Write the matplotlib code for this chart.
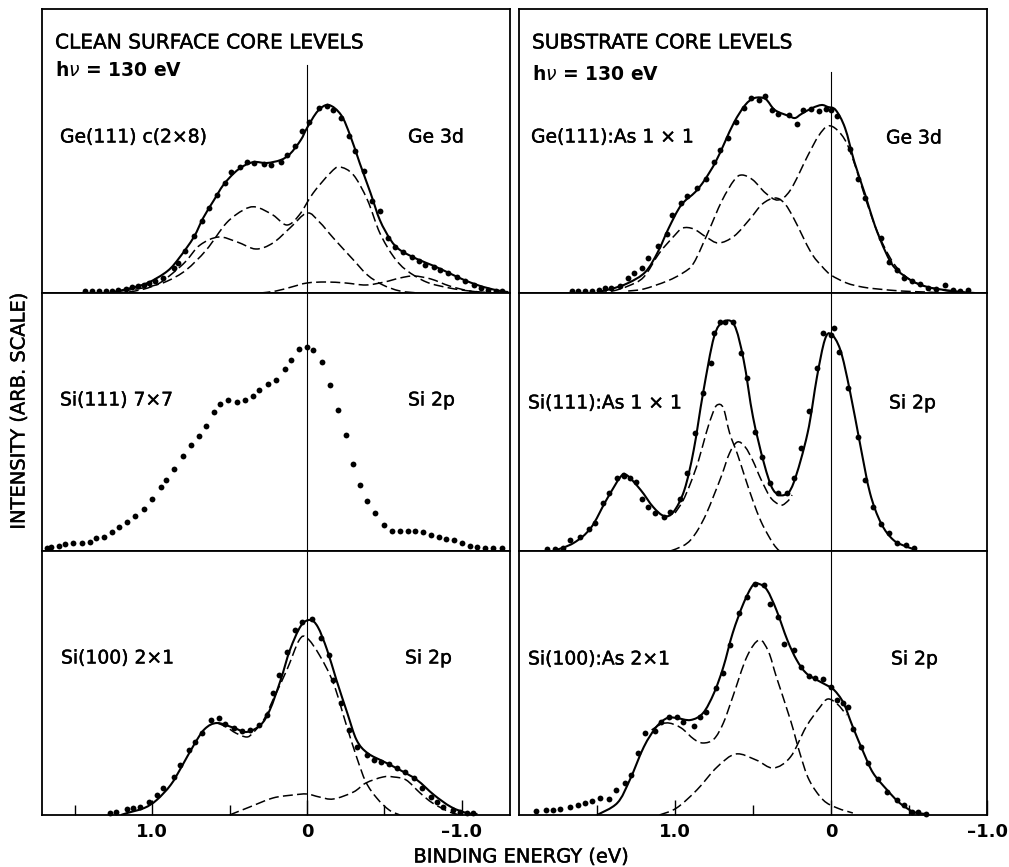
import numpy as np
import matplotlib.pyplot as plt
import matplotlib.patheffects as pe
from matplotlib.path import Path
from matplotlib.patches import PathPatch

plt.rcParams['font.family'] = ['DejaVu Sans']

# ---- spectra: binding energy (eV) and intensity (arb., panel units) ----

# Ge(111) c(2x8), Ge 3d
ge_clean_e = [1.43, 1.39, 1.34, 1.30, 1.26, 1.22, 1.17, 1.13, 1.09, 1.05, 1.02, 0.98, 0.93, 0.86, 0.83,
              0.79, 0.73, 0.68, 0.63, 0.58, 0.53, 0.49, 0.43, 0.39, 0.34, 0.28, 0.23, 0.17, 0.13, 0.08,
              0.03, -0.01, -0.08, -0.13, -0.17, -0.22, -0.27, -0.31, -0.37, -0.42, -0.47, -0.52, -0.57,
              -0.62, -0.68, -0.72, -0.76, -0.82, -0.86, -0.91, -0.97, -1.02, -1.08, -1.12, -1.17, -1.22, -1.26]
ge_clean_i = [2, 2, 2, 2, 2, 3, 4, 6, 7, 8, 10, 12, 15, 25, 30,
              42, 57, 72, 85, 98, 110, 121, 126, 131, 130, 129, 128, 131, 138, 147,
              162, 171, 185, 187, 183, 175, 157, 142, 122, 92, 82, 55, 46,
              41, 36, 32, 28, 26, 23, 20, 16, 12, 8, 5, 3, 2, 2]
ge_clean_fit_e = [1.25, 1.16, 1.03, 0.90, 0.82, 0.73, 0.67, 0.60, 0.54, 0.47, 0.41, 0.34, 0.26, 0.17, 0.11,
                  0.04, 0.0, -0.07, -0.14, -0.22, -0.28, -0.34, -0.41, -0.47, -0.54, -0.60, -0.71, -0.82,
                  -0.93, -1.03, -1.14, -1.25, -1.30]
ge_clean_fit_i = [1, 4, 10, 22, 36, 56, 75, 93, 108, 120, 127, 131, 130, 133, 139,
                  153, 165, 182, 188, 178, 157, 130, 100, 73, 53, 43, 34, 27,
                  19, 12, 6, 2, 1]
ge_clean_c1_e = [1.15, 1.05, 0.95, 0.85, 0.78, 0.69, 0.57, 0.45, 0.33, 0.22, 0.11, 0.0, -0.08, -0.17,
                 -0.30, -0.39, -0.49, -0.60, -0.72]
ge_clean_c1_i = [1, 4, 10, 22, 32, 48, 56, 51, 44, 50, 65, 80, 71, 55, 33, 18, 8, 2, 0]
ge_clean_c2_e = [1.20, 1.10, 1.00, 0.90, 0.78, 0.65, 0.52, 0.41, 0.33, 0.22, 0.13, 0.05, -0.04, -0.15,
                 -0.21, -0.30, -0.39, -0.47, -0.56, -0.64, -0.77, -0.92, -1.05, -1.20]
ge_clean_c2_i = [2, 4, 7, 12, 23, 43, 70, 83, 86, 78, 68, 78, 100, 120, 126, 118, 93, 60, 36, 23, 11, 5, 2, 0]
ge_clean_c3_e = [0.30, 0.20, 0.10, 0.0, -0.12, -0.25, -0.38, -0.50, -0.60, -0.69, -0.80, -0.92, -1.05, -1.18]
ge_clean_c3_i = [0, 2, 6, 10, 11, 10, 8, 11, 15, 17, 14, 7, 2, 0]

# Ge(111):As 1x1, Ge 3d
ge_as_e = [1.66, 1.62, 1.58, 1.53, 1.49, 1.45, 1.41, 1.35, 1.30, 1.26, 1.21, 1.17, 1.11, 1.05, 1.02,
           0.96, 0.92, 0.86, 0.80, 0.75, 0.71, 0.66, 0.61, 0.56, 0.51, 0.46, 0.42, 0.38, 0.34, 0.27,
           0.22, 0.18, 0.13, 0.08, 0.03, 0.0, -0.04, -0.12, -0.17, -0.22, -0.32, -0.37, -0.42, -0.47,
           -0.52, -0.57, -0.62, -0.67, -0.73, -0.78, -0.83, -0.88]
ge_as_i = [2, 2, 2, 2, 3, 5, 5, 7, 15, 20, 25, 35, 47, 59, 78,
           90, 97, 105, 114, 131, 143, 155, 171, 185, 195, 193, 197, 183, 179, 178,
           169, 183, 184, 182, 184, 183, 177, 144, 114, 95, 55, 31, 23, 15,
           12, 9, 5, 4, 8, 3, 2, 3]
ge_as_fit_e = [1.50, 1.41, 1.30, 1.19, 1.11, 1.04, 0.96, 0.87, 0.81, 0.74, 0.68, 0.62, 0.55, 0.49, 0.42,
               0.36, 0.27, 0.23, 0.19, 0.12, 0.06, 0.02, -0.03, -0.09, -0.15, -0.22, -0.28, -0.35, -0.41,
               -0.52, -0.62, -0.73, -0.84, -0.92]
ge_as_fit_i = [1, 4, 10, 21, 41, 65, 88, 101, 113, 131, 151, 171, 188, 195, 194,
               183, 177, 175, 179, 185, 188, 186, 183, 165, 131, 98, 68, 41, 25,
               12, 6, 3, 1, 0]
ge_as_c1_e = [1.50, 1.40, 1.30, 1.20, 1.10, 1.00, 0.95, 0.88, 0.80, 0.72, 0.62, 0.52, 0.44, 0.36, 0.30,
              0.24, 0.13, 0.06, 0.0, -0.10, -0.20, -0.30, -0.45, -0.60, -0.75]
ge_as_c1_i = [0, 2, 7, 16, 40, 58, 65, 64, 56, 50, 57, 74, 89, 95, 90, 75, 41, 27, 18, 10, 6, 4, 2, 1, 0]
ge_as_c2_e = [1.30, 1.20, 1.05, 0.95, 0.88, 0.79, 0.70, 0.62, 0.57, 0.50, 0.42, 0.34, 0.26, 0.15, 0.08,
              0.02, -0.04, -0.10, -0.16, -0.22, -0.30, -0.40, -0.50, -0.62, -0.75, -0.85]
ge_as_c2_i = [2, 4, 12, 20, 30, 60, 92, 113, 118, 113, 100, 93, 103, 137, 157,
              167, 163, 150, 125, 95, 60, 30, 14, 6, 2, 0]

# Si(111) 7x7, Si 2p (data only)
si111_e = [1.68, 1.65, 1.60, 1.56, 1.51, 1.45, 1.40, 1.36, 1.31, 1.26, 1.21, 1.16, 1.11, 1.05, 1.00,
           0.94, 0.91, 0.86, 0.80, 0.75, 0.70, 0.65, 0.60, 0.56, 0.51, 0.45, 0.40, 0.35, 0.31, 0.25,
           0.20, 0.14, 0.10, 0.05, 0.0, -0.04, -0.10, -0.15, -0.20, -0.25, -0.30, -0.34, -0.39, -0.44,
           -0.50, -0.55, -0.60, -0.65, -0.70, -0.75, -0.80, -0.85, -0.90, -0.95, -1.00, -1.05, -1.10,
           -1.15, -1.20, -1.26]
si111_i = [3, 4, 5, 7, 8, 8, 9, 13, 14, 19, 24, 29, 35, 42, 52,
           64, 71, 82, 95, 106, 115, 125, 139, 147, 151, 149, 151, 155, 161, 167,
           171, 182, 191, 202, 204, 201, 189, 166, 141, 116, 87, 66, 50, 38,
           26, 20, 20, 20, 20, 19, 16, 14, 12, 11, 8, 5, 4,
           3, 3, 3]

# Si(111):As 1x1, Si 2p
si111_as_e = [1.82, 1.77, 1.72, 1.67, 1.61, 1.55, 1.51, 1.46, 1.42, 1.37, 1.33, 1.29, 1.25, 1.21, 1.17,
              1.13, 1.07, 1.03, 0.97, 0.92, 0.87, 0.82, 0.77, 0.75, 0.71, 0.68, 0.63, 0.58, 0.54, 0.49,
              0.44, 0.39, 0.34, 0.28, 0.24, 0.19, 0.14, 0.09, 0.05, 0.0, -0.02, -0.05, -0.11, -0.17,
              -0.22, -0.27, -0.32, -0.37, -0.42, -0.48, -0.53]
si111_as_i = [2, 2, 3, 11, 14, 22, 28, 48, 58, 73, 75, 73, 69, 52, 44,
              38, 34, 39, 52, 78, 118, 158, 188, 218, 229, 229, 229, 198, 173, 119,
              94, 68, 58, 58, 73, 103, 140, 183, 218, 216, 223, 199, 163, 114,
              71, 44, 27, 18, 8, 6, 3]
si111_as_fit_e = [1.78, 1.65, 1.54, 1.44, 1.35, 1.31, 1.22, 1.14, 1.07, 1.01, 0.94, 0.88, 0.82, 0.75, 0.69,
                  0.62, 0.56, 0.50, 0.43, 0.37, 0.30, 0.24, 0.15, 0.09, 0.04, 0.0, -0.06, -0.12, -0.19,
                  -0.25, -0.32, -0.40, -0.49, -0.55]
si111_as_fit_i = [0, 8, 23, 51, 74, 76, 61, 44, 35, 39, 61, 101, 158, 214, 229,
                  226, 191, 134, 88, 61, 56, 68, 118, 174, 211, 217, 201, 161, 104,
                  58, 28, 11, 4, 1]
si111_as_c1_e = [1.00, 0.95, 0.90, 0.85, 0.80, 0.76, 0.73, 0.69, 0.65, 0.60, 0.55, 0.50, 0.45, 0.40, 0.36, 0.33]
si111_as_c1_i = [38, 50, 68, 90, 118, 137, 146, 143, 118, 97, 73, 50, 30, 15, 5, 0]
si111_as_c2_e = [1.03, 0.95, 0.90, 0.85, 0.80, 0.75, 0.70, 0.65, 0.60, 0.55, 0.50, 0.45, 0.39, 0.34, 0.31, 0.27, 0.25]
si111_as_c2_i = [0, 5, 11, 22, 37, 56, 76, 98, 109, 104, 90, 72, 54, 47, 46, 51, 56]

# Si(100) 2x1, Si 2p
si100_e = [1.27, 1.23, 1.16, 1.12, 1.08, 1.02, 0.97, 0.93, 0.86, 0.82, 0.76, 0.72, 0.68, 0.62, 0.57,
           0.53, 0.47, 0.42, 0.37, 0.31, 0.26, 0.22, 0.18, 0.13, 0.08, 0.03, -0.03, -0.09, -0.14, -0.17,
           -0.22, -0.27, -0.32, -0.39, -0.43, -0.48, -0.53, -0.58, -0.63, -0.69, -0.74, -0.80, -0.84,
           -0.88, -0.94, -0.99, -1.03, -1.07]
si100_i = [2, 3, 6, 7, 8, 13, 20, 27, 38, 50, 65, 73, 82, 95, 97,
           91, 87, 84, 85, 90, 100, 122, 140, 163, 185, 193, 196, 177, 160, 135,
           112, 85, 68, 60, 55, 53, 51, 47, 43, 37, 27, 18, 13,
           8, 5, 3, 2, 2]
si100_fit_e = [1.20, 1.16, 1.05, 0.97, 0.88, 0.81, 0.73, 0.66, 0.58, 0.47, 0.39, 0.30, 0.24, 0.17, 0.11,
               0.04, -0.02, -0.07, -0.13, -0.19, -0.26, -0.32, -0.39, -0.50, -0.60, -0.71, -0.82, -0.93,
               -1.03, -1.10]
si100_fit_i = [0, 2, 7, 15, 30, 48, 70, 86, 92, 87, 83, 90, 105, 135, 165,
               189, 195, 188, 165, 135, 102, 75, 62, 53, 45, 35, 20, 8,
               2, 1]
si100_c1_e = [0.58, 0.52, 0.46, 0.39, 0.35, 0.28, 0.22, 0.13, 0.05, 0.0, -0.08, -0.17, -0.25, -0.32,
              -0.38, -0.45, -0.53, -0.60]
si100_c1_i = [92, 88, 82, 78, 82, 95, 115, 145, 175, 177, 160, 132, 92, 58, 33, 17, 5, 0]
si100_c2_e = [0.50, 0.37, 0.22, 0.09, 0.0, -0.08, -0.17, -0.30, -0.38, -0.49, -0.56, -0.64, -0.73, -0.81,
              -0.92, -0.99]
si100_c2_i = [0, 8, 17, 20, 21, 18, 16, 23, 32, 38, 38, 35, 22, 12, 3, 0]

# Si(100):As 2x1, Si 2p
si100_as_e = [1.89, 1.83, 1.78, 1.74, 1.67, 1.62, 1.58, 1.53, 1.48, 1.42, 1.38, 1.32, 1.28, 1.24, 1.19,
              1.13, 1.09, 1.04, 0.99, 0.95, 0.88, 0.84, 0.80, 0.74, 0.69, 0.65, 0.59, 0.54, 0.49, 0.43,
              0.39, 0.34, 0.30, 0.24, 0.19, 0.14, 0.10, 0.05, 0.0, -0.04, -0.08, -0.11, -0.14, -0.19,
              -0.24, -0.30, -0.36, -0.42, -0.47, -0.52, -0.56, -0.61]
si100_as_i = [4, 5, 5, 6, 8, 10, 12, 14, 17, 16, 25, 32, 40, 62, 82,
              84, 93, 98, 98, 93, 89, 98, 103, 127, 142, 170, 202, 218, 231, 230,
              211, 198, 171, 165, 148, 139, 137, 136, 128, 115, 112, 108, 86, 68,
              52, 36, 23, 15, 10, 3, 3, 1]
si100_as_fit_e = [1.50, 1.37, 1.29, 1.20, 1.12, 1.05, 0.99, 0.90, 0.82, 0.75, 0.69, 0.63, 0.56, 0.50, 0.46,
                  0.41, 0.35, 0.28, 0.22, 0.16, 0.09, 0.03, -0.02, -0.08, -0.14, -0.21, -0.27, -0.36,
                  -0.44, -0.53, -0.61]
si100_as_fit_i = [0, 12, 35, 68, 88, 97, 97, 95, 102, 122, 148, 182, 212, 230, 231,
                  225, 205, 175, 155, 142, 135, 130, 125, 112, 88, 62, 42, 25,
                  12, 3, 1]
si100_as_c1_e = [1.15, 1.10, 1.04, 0.96, 0.88, 0.82, 0.75, 0.69, 0.63, 0.54, 0.46, 0.40, 0.35, 0.26, 0.20,
                 0.14, 0.05, -0.04, -0.14]
si100_as_c1_i = [85, 90, 92, 87, 76, 72, 76, 92, 118, 158, 175, 163, 138, 95, 62, 35, 15, 7, 2]
si100_as_c2_e = [1.10, 0.99, 0.86, 0.73, 0.61, 0.48, 0.37, 0.26, 0.16, 0.07, 0.02, -0.04, -0.10]
si100_as_c2_i = [0, 7, 25, 48, 61, 55, 47, 58, 88, 108, 116, 111, 100]

W, H = 1009, 867
fig = plt.figure(figsize=(W / 100, H / 100), dpi=100)

# a touch heavier than regular weight for the lettering
semibold = [pe.withStroke(linewidth=0.3, foreground='black')]


def add_px_axes(x0, y0, x1, y1):
    return fig.add_axes([x0 / W, 1 - y1 / H, (x1 - x0) / W, (y1 - y0) / H])


def fig_text(x, y, s, **kw):
    kw.setdefault('va', 'center')
    kw.setdefault('ha', 'left')
    kw.setdefault('path_effects', semibold)
    fig.text(x / W, 1 - y / H, s, **kw)


def smooth(ax, e, i, dashed=False):
    # Catmull-Rom through the points, drawn as cubic Bezier segments
    pts = np.column_stack([e, i]).astype(float)
    n = len(pts)
    verts = [pts[0]]
    codes = [Path.MOVETO]
    for k in range(n - 1):
        p0 = pts[max(k - 1, 0)]
        p1 = pts[k]
        p2 = pts[k + 1]
        p3 = pts[min(k + 2, n - 1)]
        verts += [p1 + (p2 - p0) / 6, p2 - (p3 - p1) / 6, p2]
        codes += [Path.CURVE4] * 3
    if dashed:
        style = dict(lw=1.1, ls=(0, (6.5, 2.8)))
    else:
        style = dict(lw=1.5, ls='-')
    ax.add_patch(PathPatch(Path(verts, codes), fill=False, ec='black', capstyle='butt', **style))


def dots(ax, e, i):
    ax.plot(e, i, 'o', color='black', ms=4.2, mew=0, clip_on=False, zorder=3)


cols = [(42, 510, (1.71, -1.31)), (519, 987, (2.0, -1.0))]
rows = [(9, 293), (293, 551), (551, 815)]

axes = {}
for c, (x0, x1, xl) in enumerate(cols):
    for r, (y0, y1) in enumerate(rows):
        ax = add_px_axes(x0, y0, x1, y1)
        ax.set_xlim(*xl)
        ax.set_ylim(0, y1 - y0)
        ax.set_yticks([])
        for sp in ax.spines.values():
            sp.set_linewidth(1.3)
        if r == 2:
            ax.set_xticks([1.0, 0, -1.0], ['1.0', '0', '\u20131.0'], fontsize=13, fontweight='bold')
            ax.set_xticks([1.5, 0.5, -0.5], minor=True)
            ax.tick_params(axis='x', which='major', direction='in', length=11, width=1.0, pad=6)
            ax.tick_params(axis='x', which='minor', direction='in', length=7, width=1.0)
        else:
            ax.set_xticks([])
        axes[(r, c)] = ax

# zero-energy reference line
axes[(0, 0)].plot([0, 0], [0, 228], color='black', lw=0.8)
axes[(0, 1)].plot([0, 0], [0, 221], color='black', lw=0.8)
for key in [(1, 0), (2, 0), (1, 1), (2, 1)]:
    axes[key].axvline(0, color='black', lw=0.8)

ax = axes[(0, 0)]
for e, i in [(ge_clean_c1_e, ge_clean_c1_i), (ge_clean_c2_e, ge_clean_c2_i), (ge_clean_c3_e, ge_clean_c3_i)]:
    smooth(ax, e, i, dashed=True)
smooth(ax, ge_clean_fit_e, ge_clean_fit_i)
dots(ax, ge_clean_e, ge_clean_i)

ax = axes[(0, 1)]
for e, i in [(ge_as_c1_e, ge_as_c1_i), (ge_as_c2_e, ge_as_c2_i)]:
    smooth(ax, e, i, dashed=True)
smooth(ax, ge_as_fit_e, ge_as_fit_i)
dots(ax, ge_as_e, ge_as_i)

dots(axes[(1, 0)], si111_e, si111_i)

ax = axes[(1, 1)]
for e, i in [(si111_as_c1_e, si111_as_c1_i), (si111_as_c2_e, si111_as_c2_i)]:
    smooth(ax, e, i, dashed=True)
smooth(ax, si111_as_fit_e, si111_as_fit_i)
dots(ax, si111_as_e, si111_as_i)

ax = axes[(2, 0)]
for e, i in [(si100_c1_e, si100_c1_i), (si100_c2_e, si100_c2_i)]:
    smooth(ax, e, i, dashed=True)
smooth(ax, si100_fit_e, si100_fit_i)
dots(ax, si100_e, si100_i)

ax = axes[(2, 1)]
for e, i in [(si100_as_c1_e, si100_as_c1_i), (si100_as_c2_e, si100_as_c2_i)]:
    smooth(ax, e, i, dashed=True)
smooth(ax, si100_as_fit_e, si100_as_fit_i)
dots(ax, si100_as_e, si100_as_i)

# headers and sample labels
fig_text(55, 43, 'CLEAN SURFACE CORE LEVELS', fontsize=14.5)
fig_text(55, 71, r'h$\nu$ = 130 eV', fontsize=13.5, fontweight='bold', path_effects=[])
fig_text(532, 43, 'SUBSTRATE CORE LEVELS', fontsize=14.5)
fig_text(532, 74, r'h$\nu$ = 130 eV', fontsize=13.5, fontweight='bold', path_effects=[])

fig_text(60, 137, 'Ge(111) c(2\u00d78)', fontsize=13.5)
fig_text(408, 137, 'Ge 3d', fontsize=13.5)
fig_text(531, 137, 'Ge(111):As 1 \u00d7 1', fontsize=13.5)
fig_text(886, 138, 'Ge 3d', fontsize=13.5)
fig_text(60, 400, 'Si(111) 7\u00d77', fontsize=13.5)
fig_text(408, 400, 'Si 2p', fontsize=13.5)
fig_text(528, 403, 'Si(111):As 1 \u00d7 1', fontsize=13.5)
fig_text(889, 403, 'Si 2p', fontsize=13.5)
fig_text(61, 658, 'Si(100) 2\u00d71', fontsize=13.5)
fig_text(405, 658, 'Si 2p', fontsize=13.5)
fig_text(528, 659, 'Si(100):As 2\u00d71', fontsize=13.5)
fig_text(891, 659, 'Si 2p', fontsize=13.5)

fig_text(19, 411, 'INTENSITY (ARB. SCALE)', fontsize=14, rotation=90, ha='center')
fig_text(521, 857, 'BINDING ENERGY (eV)', fontsize=14, ha='center')

fig.savefig('out.png', dpi=100, facecolor='white')
